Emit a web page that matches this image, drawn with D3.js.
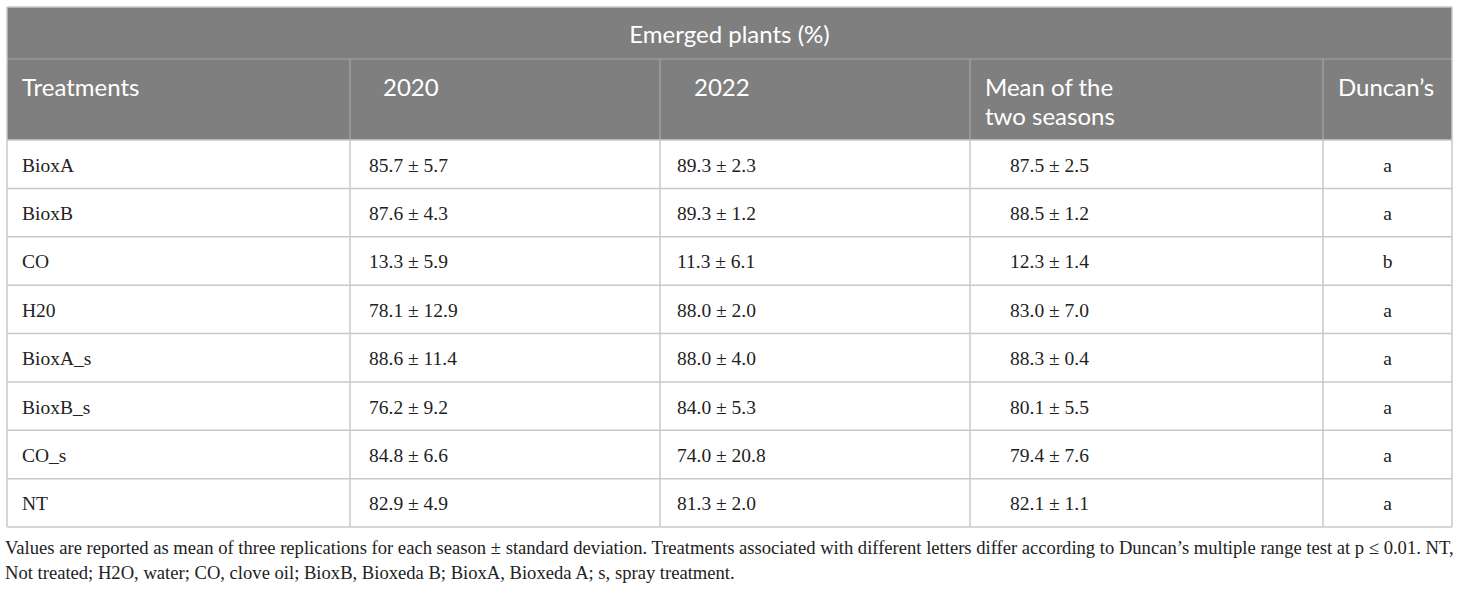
<!DOCTYPE html>
<html>
<head>
<meta charset="utf-8">
<script src="https://cdn.jsdelivr.net/npm/d3@7"></script>
<style>
  body { margin: 0; background: #fff; }
  svg { display: block; }
</style>
</head>
<body>
<svg id="chart" width="1460" height="589"></svg>
<script>
var title = 'Emerged plants (%)'
var headers = ['Treatments', '2020', '2022', ['Mean of the', 'two seasons'], 'Duncan\u2019s']
var treatments = ['BioxA', 'BioxB', 'CO', 'H20', 'BioxA_s', 'BioxB_s', 'CO_s', 'NT']
var mean2020 = [85.7, 87.6, 13.3, 78.1, 88.6, 76.2, 84.8, 82.9]
var sd2020 = [5.7, 4.3, 5.9, 12.9, 11.4, 9.2, 6.6, 4.9]
var mean2022 = [89.3, 89.3, 11.3, 88.0, 88.0, 84.0, 74.0, 81.3]
var sd2022 = [2.3, 1.2, 6.1, 2.0, 4.0, 5.3, 20.8, 2.0]
var meanBoth = [87.5, 88.5, 12.3, 83.0, 88.3, 80.1, 79.4, 82.1]
var sdBoth = [2.5, 1.2, 1.4, 7.0, 0.4, 5.5, 7.6, 1.1]
var duncan = ['a', 'a', 'b', 'a', 'a', 'a', 'a', 'a']
var footnote = [
  'Values are reported as mean of three replications for each season \u00b1 standard deviation. Treatments associated with different letters differ according to Duncan\u2019s multiple range test at p \u2264 0.01. NT,',
  'Not treated; H2O, water; CO, clove oil; BioxB, Bioxeda B; BioxA, Bioxeda A; s, spray treatment.'
]

function pm(m, s) {
  return m.toFixed(1) + ' \u00b1 ' + s.toFixed(1)
}

var rows = treatments.map(function(t, i) {
  return [t, pm(mean2020[i], sd2020[i]), pm(mean2022[i], sd2022[i]), pm(meanBoth[i], sdBoth[i]), duncan[i]]
})

var svg = d3.select('#chart')
var left = 7, right = 1452
var titleTop = 7, headTop = 59, bodyTop = 140, bodyBottom = 527
var headFont = 'Lato', headSize = 24
var bodyFont = 'Liberation Serif', bodySize = 19.5

// column edges
var colEdges = [7, 350, 660, 970, 1323, 1452]
var headPad = [15, 33, 34, 15, 15]
var bodyPad = [15, 19, 17, 40, 0]

var y = d3.scaleBand()
  .domain(d3.range(rows.length))
  .range([bodyTop, bodyBottom])

// header background
svg.append('rect')
  .attr('x', left).attr('y', titleTop)
  .attr('width', right - left).attr('height', bodyTop - titleTop)
  .attr('fill', '#7f7f7f')

svg.append('text')
  .attr('x', (left + right) / 2).attr('y', (titleTop + headTop) / 2)
  .attr('text-anchor', 'middle').attr('dominant-baseline', 'central')
  .attr('font-family', headFont).attr('font-size', headSize)
  .attr('fill', '#fff')
  .text(title)

// header lines
svg.append('line')
  .attr('x1', left).attr('x2', right).attr('y1', headTop).attr('y2', headTop)
  .attr('stroke', '#a6a6a6').attr('stroke-width', 1.2)

svg.selectAll('.hsep').data(colEdges.slice(1, -1)).enter().append('line')
  .attr('x1', function(d) { return d }).attr('x2', function(d) { return d })
  .attr('y1', headTop).attr('y2', bodyTop)
  .attr('stroke', '#a6a6a6').attr('stroke-width', 1.2)

var hg = svg.selectAll('.head').data(headers).enter().append('text')
  .attr('font-family', headFont).attr('font-size', headSize)
  .attr('fill', '#fff')
  .attr('x', function(d, i) { return colEdges[i] + headPad[i] })
  .attr('y', 86)
  .attr('dominant-baseline', 'central')

hg.each(function(d) {
  var t = d3.select(this)
  if (Array.isArray(d)) {
    d.forEach(function(line, k) {
      t.append('tspan').attr('x', t.attr('x')).attr('dy', k ? 29 : 0).text(line)
    })
  } else {
    t.text(d)
  }
})

// body grid
svg.selectAll('.rowline').data(d3.range(rows.length + 1)).enter().append('line')
  .attr('x1', left).attr('x2', right)
  .attr('y1', function(d) { return d < rows.length ? y(d) : bodyBottom })
  .attr('y2', function(d) { return d < rows.length ? y(d) : bodyBottom })
  .attr('stroke', '#c8c8c8').attr('stroke-width', 1.5)

svg.selectAll('.colline').data(colEdges).enter().append('line')
  .attr('x1', function(d) { return d }).attr('x2', function(d) { return d })
  .attr('y1', function(d, i) { return (i === 0 || i === colEdges.length - 1) ? titleTop : bodyTop })
  .attr('y2', bodyBottom)
  .attr('stroke', '#c8c8c8').attr('stroke-width', 1.5)

svg.append('line')
  .attr('x1', left).attr('x2', right).attr('y1', titleTop).attr('y2', titleTop)
  .attr('stroke', '#c8c8c8').attr('stroke-width', 1.5)

// body text
var rg = svg.selectAll('.row').data(rows).enter().append('g')
  .attr('transform', function(d, i) { return 'translate(0,' + (y(i) + y.bandwidth() / 2 + 1) + ')' })

rg.selectAll('text').data(function(d) { return d }).enter().append('text')
  .attr('font-family', bodyFont).attr('font-size', bodySize)
  .attr('fill', '#222')
  .attr('dominant-baseline', 'central')
  .attr('text-anchor', function(d, i) { return i === 4 ? 'middle' : 'start' })
  .attr('x', function(d, i) { return i === 4 ? (colEdges[4] + colEdges[5]) / 2 : colEdges[i] + bodyPad[i] })
  .text(function(d) { return d })

// footnote
svg.selectAll('.foot').data(footnote).enter().append('text')
  .attr('font-family', bodyFont).attr('font-size', 18.6)
  .attr('fill', '#222')
  .attr('x', 5)
  .attr('y', function(d, i) { return 547 + i * 25 })
  .attr('dominant-baseline', 'central')
  .text(function(d) { return d })
</script>
</body>
</html>
